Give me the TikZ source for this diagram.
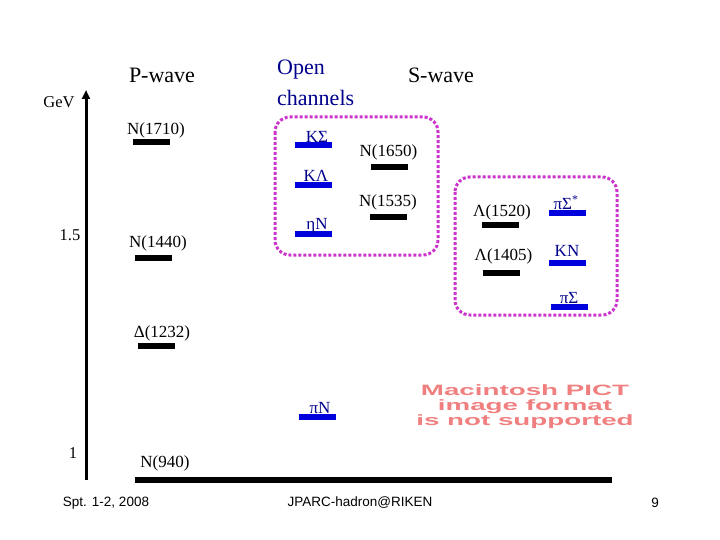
\documentclass[tikz,border=0pt]{standalone}
\usepackage{fontspec}
\setmainfont{Liberation Serif}
\newfontfamily\footfont{Liberation Sans}
\usetikzlibrary{positioning,arrows.meta}

\definecolor{barblue}{RGB}{0,0,220}
\definecolor{chanblue}{RGB}{0,0,140}
\definecolor{boxmagenta}{RGB}{204,51,204}
\definecolor{pictred}{RGB}{240,128,128}

\begin{document}
\begin{tikzpicture}[x=1pt,y=-1pt,
    level/.style={rectangle,fill=black,minimum width=37pt,minimum height=5.5pt,inner sep=0pt},
    chan/.style={rectangle,fill=barblue,minimum width=37pt,minimum height=5.5pt,inner sep=0pt},
    lab/.style={inner sep=0pt,font=\fontsize{17}{19}\selectfont},
    chanlab/.style={lab,text=chanblue},
    head/.style={inner sep=0pt,font=\fontsize{22}{26}\selectfont},
    foot/.style={inner sep=0pt,font=\footfont\fontsize{13.5}{15}\selectfont},
    group/.style={draw=boxmagenta,line width=3pt,dotted,rounded corners=15pt}]
  \useasboundingbox (0,0) rectangle (720,540);

  % energy axis
  \coordinate (axbot) at (86,480);
  \coordinate (axtop) at (86,90);
  \draw[line width=3pt,-{Triangle[width=8pt,length=9pt]}] (axbot) -- (axtop);
  \node[lab,font=\fontsize{16.5}{18}\selectfont] (gev) at (59,102) {GeV};
  \node[lab,font=\fontsize{16.5}{18}\selectfont] (t15) at (70,235) {1.5};
  \node[lab,font=\fontsize{16.5}{18}\selectfont] (t1) at (73,453) {1};

  % headings
  \node[head] (pwave) at (162,75) {P-wave};
  \node[head,text=chanblue,anchor=west] (open) at (277,70) {Open};
  \node[head,text=chanblue,anchor=west] (chans) at (277,98) {channels};
  \node[head] (swave) at (441,75) {S-wave};

  % channel groups
  \draw[group] (275,117) rectangle (438,255);
  \draw[group] (455,177) rectangle (617,315);

  % P-wave states
  \node[level] (n1710) at (151.5,142) {};
  \node[lab] (n1710l) at (156,130) {N(1710)};
  \node[level] (n1440) at (153.5,258) {};
  \node[lab] (n1440l) at (158,243) {N(1440)};
  \node[level] (d1232) at (156,346) {};
  \node[lab] (d1232l) at (162,333) {Δ(1232)};
  \coordinate (n940a) at (135,480);
  \coordinate (n940b) at (612,480);
  \draw[line width=5.5pt] (n940a) -- (n940b);
  \node[lab] (n940l) at (165,463) {N(940)};

  % S-wave states
  \node[level] (n1650) at (389.5,167) {};
  \node[lab] (n1650l) at (388.5,152) {N(1650)};
  \node[level] (n1535) at (388.5,217) {};
  \node[lab] (n1535l) at (388,202) {N(1535)};
  \node[level] (l1520) at (500.5,225) {};
  \node[lab] (l1520l) at (502,212) {Λ(1520)};
  \node[level] (l1405) at (501,273) {};
  \node[lab] (l1405l) at (503.5,256) {Λ(1405)};

  % thresholds
  \node[chan] (ks) at (313.5,145) {};
  \node[chanlab] (ksl) at (317,137) {KΣ};
  \node[chan] (kl) at (313.5,185) {};
  \node[chanlab] (kll) at (316,176) {KΛ};
  \node[chan] (etan) at (313.5,234) {};
  \node[chanlab] (etanl) at (317,226) {ηN};
  \node[chan] (pisst) at (567,213) {};
  \node[chanlab] (pisstl) at (566,203) {πΣ\textsuperscript{*}};
  \node[chan] (kn) at (567,263) {};
  \node[chanlab] (knl) at (567,251) {KN};
  \node[chan] (pis) at (569,307) {};
  \node[chanlab] (pisl) at (569,298) {πΣ};
  \node[chan] (pin) at (317,417) {};
  \node[chanlab] (pinl) at (320,408) {πN};

  % missing picture
  \node[inner sep=0pt,text=pictred,align=center,
        font=\footfont\bfseries\fontsize{15}{15}\selectfont] (pict) at (525,407)
    {\scalebox{1.85}[1]{Macintosh PICT}\\\scalebox{1.85}[1]{image format}\\\scalebox{1.85}[1]{is not supported}};

  % footer
  \node[foot] (date) at (106,503) {Spt. 1-2, 2008};
  \node[foot] (conf) at (360,503) {JPARC-hadron@RIKEN};
  \node[foot] (page) at (655,503) {9};
\end{tikzpicture}
\end{document}
